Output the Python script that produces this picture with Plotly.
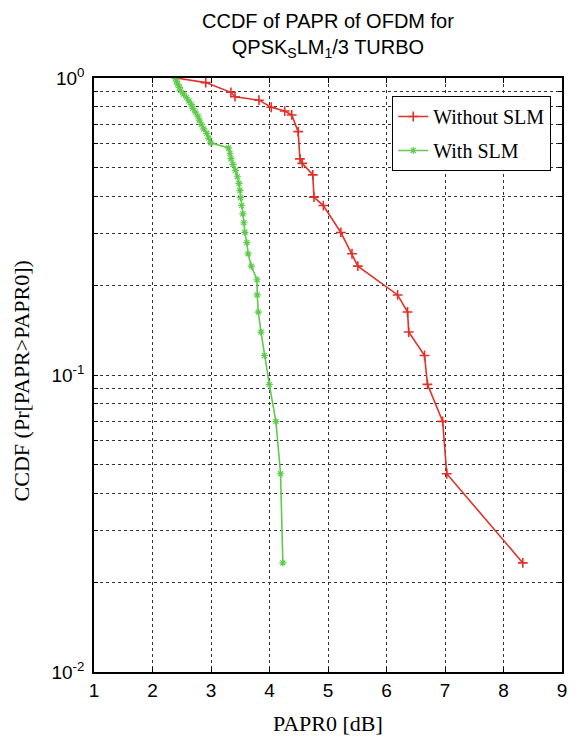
import plotly.graph_objects as go

# ---- data ----
red_x = [2.41, 2.91, 3.34, 3.41, 3.82, 4.03, 4.26, 4.38, 4.49, 4.52, 4.56, 4.74,
         4.76, 4.92, 5.22, 5.41, 5.51, 6.19, 6.36, 6.38, 6.65, 6.70, 6.96, 7.03, 8.33]
red_y = [1.0, 0.965, 0.895, 0.865, 0.842, 0.797, 0.774, 0.751, 0.660, 0.534, 0.516, 0.472,
         0.397, 0.372, 0.302, 0.256, 0.2326, 0.186, 0.163, 0.1395, 0.1163, 0.093, 0.0698, 0.0465, 0.0233]

green_x = [2.394, 2.411, 2.428, 2.461, 2.478, 2.529, 2.580, 2.622, 2.665, 2.690, 2.732,
           2.775, 2.800, 2.834, 2.876, 2.927, 2.961, 2.998, 3.300, 3.325, 3.342, 3.376,
           3.418, 3.452, 3.478, 3.494, 3.506, 3.523, 3.545, 3.562, 3.579, 3.613, 3.635,
           3.689, 3.787, 3.791, 3.808, 3.855, 3.913, 3.997, 4.109, 4.189, 4.228]
green_y = [1.0, 0.9767, 0.9535, 0.9302, 0.9070, 0.8837, 0.8605, 0.8372, 0.8140, 0.7907,
           0.7674, 0.7442, 0.7209, 0.6977, 0.6744, 0.6512, 0.6279, 0.6047, 0.5814, 0.5581,
           0.5349, 0.5116, 0.4884, 0.4651, 0.4419, 0.4186, 0.3953, 0.3721, 0.3488, 0.3256,
           0.3023, 0.2791, 0.2558, 0.2326, 0.2093, 0.1860, 0.1628, 0.1395, 0.1163, 0.0930,
           0.0698, 0.0465, 0.0233]

x_ticks = [1, 2, 3, 4, 5, 6, 7, 8, 9]
y_ticks = [0.01, 0.02, 0.03, 0.04, 0.05, 0.06, 0.07, 0.08, 0.09,
           0.1, 0.2, 0.3, 0.4, 0.5, 0.6, 0.7, 0.8, 0.9, 1.0]
y_ticktext = ["10<sup>-2</sup>", "", "", "", "", "", "", "", "",
              "10<sup>-1</sup>", "", "", "", "", "", "", "", "", "10<sup>0</sup>"]

RED = "#e2302a"
GREEN = "#5fcb4c"
SANS = "Liberation Sans, Arial, sans-serif"
SERIF = "Liberation Serif, Times New Roman, serif"

fig = go.Figure()
fig.add_trace(go.Scatter(
    x=red_x, y=red_y, mode="lines+markers", name="Without SLM", legendgroup="a",
    line=dict(color=RED, width=1.6),
    marker=dict(symbol="cross-thin", size=7, line=dict(color=RED, width=1.6)),
))
fig.add_trace(go.Scatter(
    x=green_x, y=green_y, mode="lines+markers", name="With SLM", legendgroup="b",
    line=dict(color=GREEN, width=1.6),
    marker=dict(symbol="asterisk-open", size=6, line=dict(color=GREEN, width=1.2)),
))

W, H = 579, 739
L, R, T, B = 94, 13, 78, 67

fig.update_layout(
    width=W, height=H,
    margin=dict(l=L, r=R, t=T, b=B),
    paper_bgcolor="white", plot_bgcolor="white",
    font=dict(family=SANS, size=19, color="black"),
    showlegend=True,
    legend=dict(
        x=0.977, y=0.9697, xanchor="right", yanchor="top",
        bgcolor="white", bordercolor="black", borderwidth=1,
        font=dict(family=SERIF, size=20, color="black"),
        tracegroupgap=5, itemwidth=30,
    ),
    xaxis=dict(
        range=[1, 9], tickvals=x_ticks, ticktext=[str(v) for v in x_ticks],
        showline=True, linecolor="black", linewidth=1.5, mirror="ticks",
        ticks="inside", ticklen=5, tickcolor="black",
        showgrid=True, gridcolor="#333333", griddash="3px,3px", gridwidth=1,
        zeroline=False, tickfont=dict(family=SANS, size=19),
    ),
    yaxis=dict(
        type="log", range=[-2, 0], tickvals=y_ticks, ticktext=y_ticktext,
        showline=True, linecolor="black", linewidth=1.5, mirror="ticks",
        ticks="inside", ticklen=4, tickcolor="black", ticklabelstandoff=4,
        showgrid=True, gridcolor="#333333", griddash="3px,3px", gridwidth=1,
        zeroline=False, tickfont=dict(family=SANS, size=19),
    ),
    annotations=[
        dict(text="CCDF of PAPR of OFDM for<br>QPSK<sub>S</sub>LM<sub>1</sub>/3 TURBO",
             xref="paper", yref="paper", x=0.5, y=1.072,
             xanchor="center", yanchor="middle", showarrow=False,
             font=dict(family=SANS, size=20, color="black")),
        dict(text="PAPR0 [dB]", xref="paper", yref="paper", x=0.5, y=-0.062,
             xanchor="center", yanchor="top", showarrow=False,
             font=dict(family=SERIF, size=22, color="black")),
        dict(text="CCDF (Pr[PAPR>PAPR0])", xref="paper", yref="paper", x=-0.155, y=0.49,
             xanchor="center", yanchor="middle", textangle=-90, showarrow=False,
             font=dict(family=SERIF, size=22, color="black")),
    ],
)

fig.write_html("out.html")
